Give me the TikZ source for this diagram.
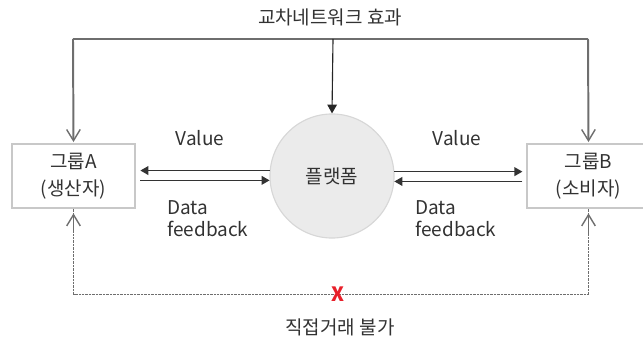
\documentclass[tikz,border=0pt]{standalone}
\usepackage{fontspec}
\setmainfont{Noto Sans CJK KR}
\usepackage{tikz}
\usepackage{xcolor}
\usetikzlibrary{arrows.meta}
\definecolor{inkgray}{RGB}{50,50,50}
\definecolor{linegray}{RGB}{110,110,110}
\definecolor{boxgray}{RGB}{200,200,200}
\definecolor{discfill}{RGB}{235,235,235}
\definecolor{discline}{RGB}{215,215,215}
\definecolor{crossred}{RGB}{232,32,42}

\tikzset{
  barb/.tip={Straight Barb[length=0.28cm, width=0.34cm, line width=1pt]},
  group/.style={draw=boxgray, line width=0.8pt, fill=white, minimum width=3.075cm,
    minimum height=1.6cm, align=center, text=inkgray, font=\fontsize{13.5}{19}\selectfont},
  label/.style={text=inkgray, font=\fontsize{13.5}{15.6}\selectfont},
  effect/.style={draw=linegray, line width=1.4pt},
  flow/.style={draw=black!80, line width=0.9pt, -{Triangle[length=0.2cm, width=0.22cm]}},
}

\begin{document}
\begin{tikzpicture}[x=0.025cm, y=-0.025cm]
    \useasboundingbox (0,0) rectangle (643,339);

    % Groups and platform
    \node[group] (groupA) at (73.5,176) {그룹A\\(생산자)};
    \node[group] (groupB) at (588.5,176) {그룹B\\(소비자)};
    \node[circle, draw=discline, line width=0.8pt, fill=discfill, minimum size=3.1cm,
      text=inkgray, font=\fontsize{13.5}{16}\selectfont] (platform) at (332,176) {플랫폼};

    % Cross network effect from the top
    \node[label] (title) at (330,17) {교차네트워크 효과};
    \coordinate (topL) at (73,39);
    \coordinate (topM) at (333,39);
    \coordinate (topR) at (588,39);
    \draw[effect] (topL) -- (topR);
    \draw[effect, -barb, shorten >=1pt] (topL) -- (groupA.north);
    \draw[effect, -barb, shorten >=1pt] (topR) -- (groupB.north);
    \draw[draw=black!85, line width=0.8pt, -{Triangle[length=0.22cm, width=0.24cm]}] (topM) -- (platform.north);

    % Value and data feedback
    \draw[flow, shorten >=0.12cm] (platform.175.4) -- (groupA.east |- platform.175.4);
    \draw[flow, shorten <=0.12cm] (groupA.east |- platform.184.6) -- (platform.184.6);
    \draw[flow, shorten >=0.1cm] (platform.4.6) -- (groupB.west |- platform.4.6);
    \draw[flow, shorten <=0.1cm] (groupB.west |- platform.355.4) -- (platform.355.4);
    \node[label] (valueA) at (200,138) {Value};
    \node[label] (valueB) at (457,138) {Value};
    \node[label, anchor=west, align=left, inner sep=0pt] (dataA) at (167,219) {Data\\feedback};
    \node[label, anchor=west, align=left, inner sep=0pt] (dataB) at (415,219) {Data\\feedback};

    % No direct trade between the groups
    \draw[draw=linegray, line width=0.8pt, dash pattern=on 0.5pt off 0.5pt]
      (groupA.south) -- ++(0,86) -| (groupB.south);
    \draw[draw=linegray, line width=0.9pt, -barb, shorten >=0.12cm] ([yshift=-0.6cm]groupA.south) -- (groupA.south);
    \draw[draw=linegray, line width=0.9pt, -barb, shorten >=0.12cm] ([yshift=-0.6cm]groupB.south) -- (groupB.south);
    \node[text=crossred, font=\fontsize{14}{14}\selectfont\bfseries, inner sep=0pt] (nodeal) at (338,294) {X};
    \node[label] (direct) at (340,327) {직접거래 불가};
\end{tikzpicture}
\end{document}
